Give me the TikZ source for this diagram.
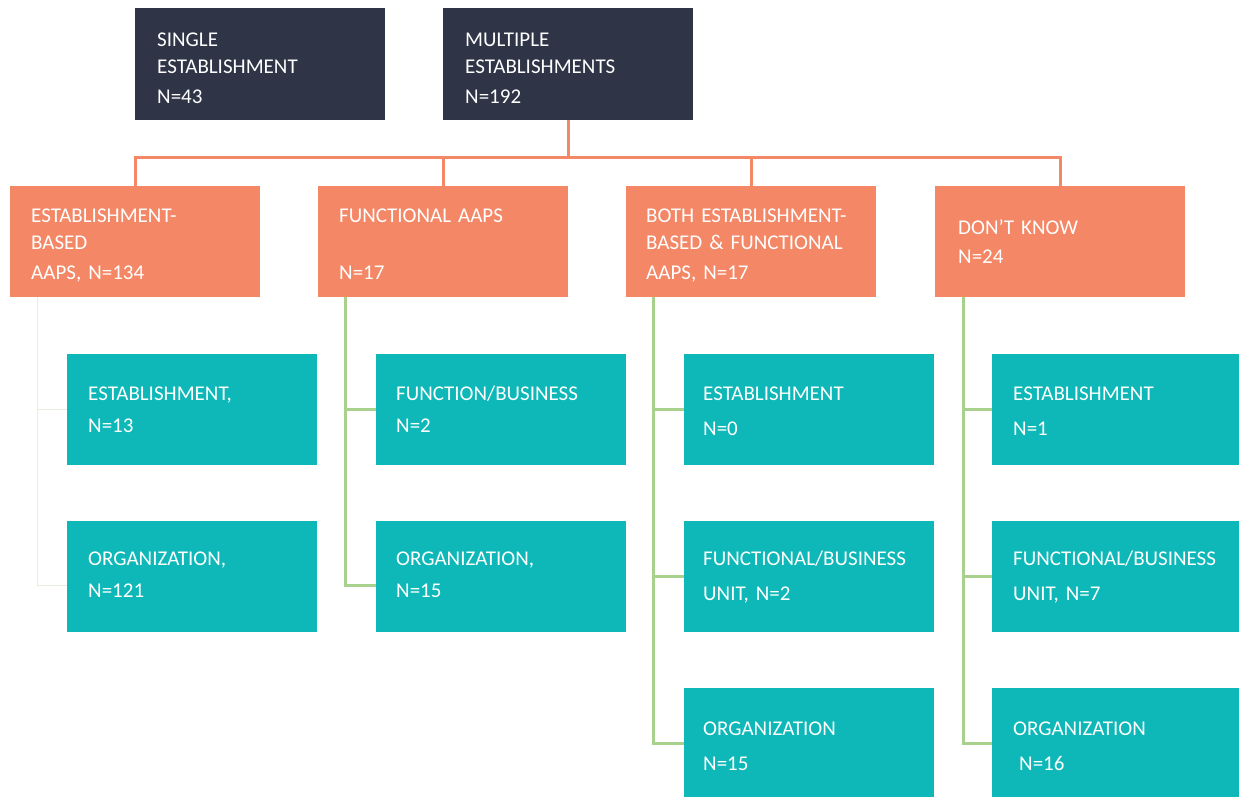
\documentclass[tikz,border=0pt]{standalone}
\usepackage{fontspec}
\setmainfont{Carlito}
\definecolor{darkbox}{HTML}{2F3447}
\definecolor{orangebox}{HTML}{F48766}
\definecolor{tealbox}{HTML}{0EB8B8}
\definecolor{greenline}{HTML}{A9D18E}
\definecolor{faintline}{HTML}{E6EFDC}
\newcommand\boxfont{\fontsize{21pt}{27pt}\selectfont\frenchspacing}
\newcommand\topstrut{\rule{0pt}{20pt}}
\begin{document}
\begin{tikzpicture}[x=1pt,y=-1pt,
  box/.style={anchor=north west, minimum width=250pt, minimum height=111pt, inner sep=0pt, draw=none},
  darkb/.style={box, fill=darkbox, minimum height=112pt},
  orangeb/.style={box, fill=orangebox},
  tealb/.style={box, fill=tealbox},
  txt/.style={anchor=north west, inner sep=0pt, align=left, text width=228pt, font=\boxfont, text=white},
  obus/.style={draw=orangebox, line width=3pt},
  gline/.style={draw=greenline, line width=3pt},
  fline/.style={draw=faintline, line width=1pt}]
\useasboundingbox (0,0) rectangle (1239,796);

% top level
\node[darkb] (s1) at (135,8) {};
\node[darkb] (m1) at (443,8) {};
\node[txt] (s1t) at ([shift={(22,18.7)}]s1.north west) {\topstrut SINGLE\\ESTABLISHMENT\\[2.5pt]N=43};
\node[txt] (m1t) at ([shift={(22,18.7)}]m1.north west) {\topstrut MULTIPLE\\ESTABLISHMENTS\\[2.5pt]N=192};

% second level
\node[orangeb] (o1) at (10,186) {};
\node[orangeb] (o2) at (318,186) {};
\node[orangeb] (o3) at (626,186) {};
\node[orangeb] (o4) at (935,186) {};
\node[txt] (o1t) at ([shift={(21,16.7)}]o1.north west) {\topstrut ESTABLISHMENT-\\BASED\\[2.5pt]AAPS, N=134};
\node[txt] (o2t) at ([shift={(21,16.7)}]o2.north west) {\topstrut FUNCTIONAL AAPS\\\mbox{}\\[2.5pt]N=17};
\node[txt] (o3t) at ([shift={(20,16.7)}]o3.north west) {\topstrut BOTH ESTABLISHMENT-\\BASED \& FUNCTIONAL\\[2.5pt]AAPS, N=17};
\node[txt] (o4t) at ([shift={(23,28)}]o4.north west) {\topstrut DON’T KNOW\\[2.3pt]N=24};

% third level
\node[tealb] (t11) at (67,354) {};
\node[tealb] (t12) at (67,521) {};
\node[tealb] (t21) at (376,354) {};
\node[tealb] (t22) at (376,521) {};
\node[tealb] (t31) at (684,354) {};
\node[tealb] (t32) at (684,521) {};
\node[tealb] (t33) at (684,688) {};
\node[tealb] (t41) at (992,354) {};
\node[tealb] (t42) at (992,521) {};
\node[tealb] (t43) at (992,688) {};

\node[txt] (t11t) at ([shift={(21,26.7)}]t11.north west) {\topstrut ESTABLISHMENT,\\[5pt]N=13};
\node[txt] (t12t) at ([shift={(21,24.7)}]t12.north west) {\topstrut ORGANIZATION,\\[5pt]N=121};
\node[txt] (t21t) at ([shift={(20,26.7)}]t21.north west) {\topstrut FUNCTION/BUSINESS\\[5pt]N=2};
\node[txt] (t22t) at ([shift={(20,24.7)}]t22.north west) {\topstrut ORGANIZATION,\\[5pt]N=15};
\node[txt] (t31t) at ([shift={(19,26.7)}]t31.north west) {\topstrut ESTABLISHMENT\\[7.5pt]N=0};
\node[txt] (t32t) at ([shift={(19,24.7)}]t32.north west) {\topstrut FUNCTIONAL/BUSINESS\\[8pt]UNIT, N=2};
\node[txt] (t33t) at ([shift={(19,27.5)}]t33.north west) {\topstrut ORGANIZATION\\[8pt]N=15};
\node[txt] (t41t) at ([shift={(21,26.7)}]t41.north west) {\topstrut ESTABLISHMENT\\[7.5pt]N=1};
\node[txt] (t42t) at ([shift={(21,24.7)}]t42.north west) {\topstrut FUNCTIONAL/BUSINESS\\[8pt]UNIT, N=7};
\node[txt] (t43t) at ([shift={(21,27.5)}]t43.north west) {\topstrut ORGANIZATION\\[8pt]\hspace*{6pt}N=16};

% orange bus
\coordinate (bus) at (0,157);
\draw[obus] (m1.south) -- (m1.south |- bus);
\draw[obus] (o1.north) -- (o1.north |- bus) -- (o4.north |- bus) -- (o4.north);
\draw[obus] (o2.north) -- (o2.north |- bus);
\draw[obus] (o3.north) -- (o3.north |- bus);

% green connectors
\coordinate (g1) at ([xshift=27pt]o1.south west);
\coordinate (g2) at ([xshift=27pt]o2.south west);
\coordinate (g3) at ([xshift=27pt]o3.south west);
\coordinate (g4) at ([xshift=28pt]o4.south west);

\draw[fline] (g1) |- ([yshift=-8.5pt]t12.west);
\draw[fline] (g1 |- t11.west) -- (t11.west);

\draw[gline] (g2) |- ([yshift=-8.5pt]t22.west);
\draw[gline] (g2 |- t21.west) -- (t21.west);

\draw[gline] (g3) |- (t33.west);
\draw[gline] (g3 |- t31.west) -- (t31.west);
\draw[gline] (g3 |- t32.west) -- (t32.west);

\draw[gline] (g4) |- (t43.west);
\draw[gline] (g4 |- t41.west) -- (t41.west);
\draw[gline] (g4 |- t42.west) -- (t42.west);
\end{tikzpicture}
\end{document}
